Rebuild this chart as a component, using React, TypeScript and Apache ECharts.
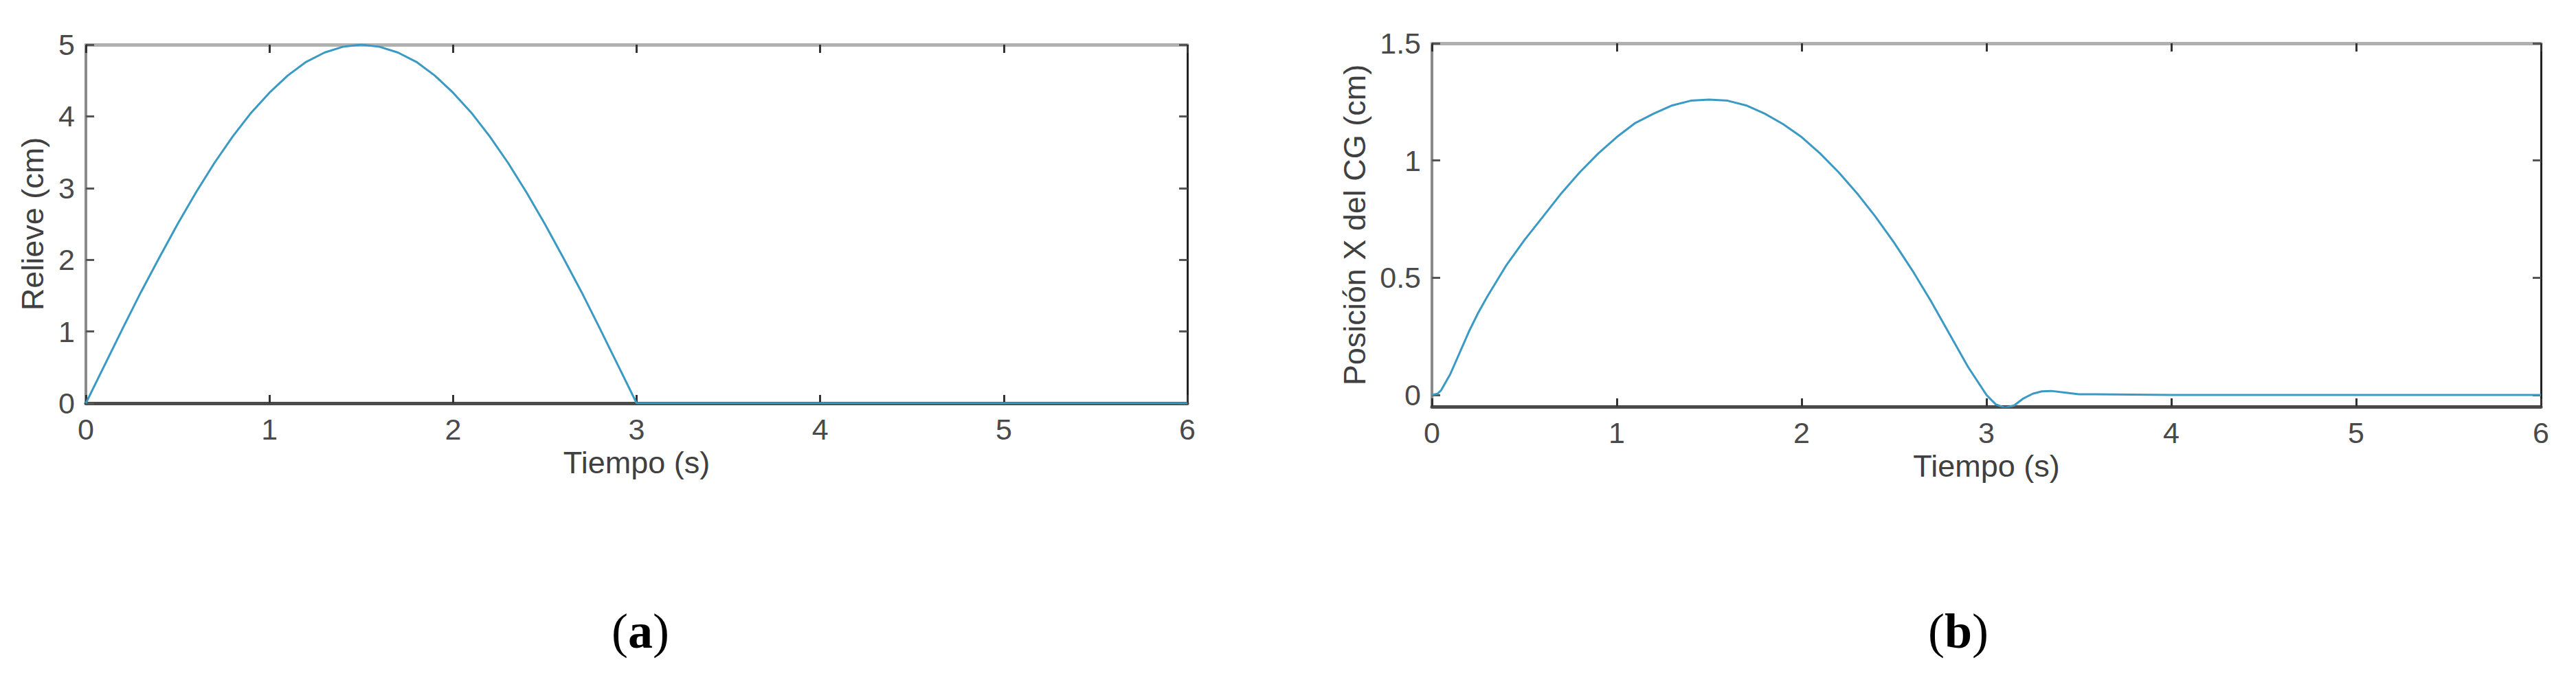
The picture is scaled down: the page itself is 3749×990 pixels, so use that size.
import React, { useEffect, useRef } from "react";
import * as echarts from "echarts";

// Panel (a): Relieve (cm) vs Tiempo (s)
const reliefT = [0, 0.1, 0.2, 0.3, 0.4, 0.5, 0.6, 0.7, 0.8, 0.9, 1.0, 1.1, 1.2, 1.3, 1.4, 1.5, 1.6, 1.7, 1.8, 1.9, 2.0, 2.1, 2.2, 2.3, 2.4, 2.5, 2.6, 2.7, 2.8, 2.9, 3.0, 4.0, 5.0, 6.0];
const reliefY = [0, 0.52, 1.04, 1.55, 2.03, 2.5, 2.94, 3.35, 3.72, 4.05, 4.33, 4.57, 4.76, 4.89, 4.97, 5.0, 4.97, 4.89, 4.76, 4.57, 4.33, 4.05, 3.72, 3.35, 2.94, 2.5, 2.03, 1.55, 1.04, 0.52, 0, 0, 0, 0];

// Panel (b): Posición X del CG (cm) vs Tiempo (s)
const cgT = [0, 0.03, 0.05, 0.1, 0.15, 0.2, 0.25, 0.3, 0.4, 0.5, 0.6, 0.7, 0.8, 0.9, 1.0, 1.1, 1.2, 1.3, 1.4, 1.5, 1.6, 1.7, 1.8, 1.9, 2.0, 2.1, 2.2, 2.3, 2.4, 2.5, 2.6, 2.7, 2.8, 2.9, 3.0, 3.05, 3.1, 3.15, 3.2, 3.25, 3.3, 3.35, 3.4, 3.5, 4.0, 5.0, 6.0];
const cgY = [0, 0.005, 0.02, 0.09, 0.18, 0.27, 0.35, 0.42, 0.55, 0.66, 0.76, 0.86, 0.95, 1.03, 1.1, 1.16, 1.2, 1.235, 1.255, 1.26, 1.255, 1.235, 1.2, 1.155, 1.1, 1.03, 0.95, 0.86, 0.76, 0.65, 0.53, 0.4, 0.26, 0.12, 0.0, -0.04, -0.055, -0.045, -0.015, 0.005, 0.015, 0.017, 0.012, 0.003, 0, 0, 0];

const xTicks = [0, 1, 2, 3, 4, 5, 6];
const reliefTicks = [0, 1, 2, 3, 4, 5];
const cgTicks = [0, 0.5, 1, 1.5];

const xTitle = "Tiempo (s)";
const reliefTitle = "Relieve (cm)";
const cgTitle = "Posición X del CG (cm)";

const FONT = "'Liberation Sans', Arial, sans-serif";
const SERIF = "'Liberation Serif', 'Times New Roman', serif";
const LINE = "#3b9ac4";

export default function App() {
  const ref = useRef<HTMLDivElement>(null);
  useEffect(() => {
    document.body.style.margin = "0";
    const chart = echarts.init(ref.current!, null, { renderer: "svg" });
    const labelStyle = { color: "#4a4a4a", fontSize: 43, fontFamily: FONT };
    const titleStyle = { color: "#404040", fontSize: 45, fontFamily: FONT };
    const mkX = (gi: number, top: boolean) => ({
      type: "value",
      gridIndex: gi,
      min: 0,
      max: 6,
      interval: 1,
      position: top ? "top" : "bottom",
      name: top ? "" : xTitle,
      nameLocation: "middle",
      nameGap: 62,
      nameTextStyle: titleStyle,
      axisLine: { show: true, onZero: false, lineStyle: { color: top ? "#b0b0b0" : "#4a4a4a", width: 5 } },
      axisTick: { show: true, inside: true, length: 12, lineStyle: { color: "#333", width: 3 }, customValues: xTicks },
      axisLabel: top ? { show: false } : { ...labelStyle, margin: 16, customValues: xTicks },
      splitLine: { show: false },
    });
    const mkY = (gi: number, right: boolean, min: number, max: number, ticks: number[], title: string, gap: number) => ({
      type: "value",
      gridIndex: gi,
      min,
      max,
      position: right ? "right" : "left",
      name: right ? "" : title,
      nameLocation: "middle",
      nameGap: gap,
      nameTextStyle: titleStyle,
      axisLine: { show: true, onZero: false, lineStyle: { color: right ? "#222" : "#8a8a8a", width: right ? 3 : 4 } },
      axisTick: { show: true, inside: true, length: 12, lineStyle: { color: "#555", width: 3 }, customValues: ticks },
      axisLabel: right ? { show: false } : { ...labelStyle, margin: 16, customValues: ticks },
      splitLine: { show: false },
    });
    const panelLabel = (x: number, letter: string) => ({
      type: "text",
      x,
      y: 919,
      style: {
        text: "({a|" + letter + "})",
        fontSize: 72,
        fontFamily: SERIF,
        fill: "#000",
        align: "center",
        verticalAlign: "middle",
        rich: { a: { fontWeight: "bold", fontSize: 72, fontFamily: SERIF } },
      },
    });
    chart.setOption({
      animation: false,
      backgroundColor: "#ffffff",
      grid: [
        { left: 125, top: 65, width: 1603, height: 522 },
        { left: 2084, top: 63, width: 1614, height: 529 },
      ],
      xAxis: [mkX(0, false), mkX(0, true), mkX(1, false), mkX(1, true)],
      yAxis: [
        mkY(0, false, 0, 5, reliefTicks, reliefTitle, 55),
        mkY(0, true, 0, 5, reliefTicks, "", 0),
        mkY(1, false, -0.05, 1.5, cgTicks, cgTitle, 90),
        mkY(1, true, -0.05, 1.5, cgTicks, "", 0),
      ],
      series: [
        {
          type: "line",
          xAxisIndex: 0,
          yAxisIndex: 0,
          data: reliefT.map((t, i) => [t, reliefY[i]]),
          smooth: false,
          showSymbol: false,
          lineStyle: { color: LINE, width: 3 },
          z: 5,
        },
        {
          type: "line",
          xAxisIndex: 2,
          yAxisIndex: 2,
          data: cgT.map((t, i) => [t, cgY[i]]),
          smooth: false,
          showSymbol: false,
          lineStyle: { color: LINE, width: 3 },
          z: 5,
        },
      ],
      graphic: [panelLabel(932, "a"), panelLabel(2850, "b")],
    });
    return () => chart.dispose();
  }, []);
  return <div ref={ref} style={{ width: 3749, height: 990 }} />;
}
